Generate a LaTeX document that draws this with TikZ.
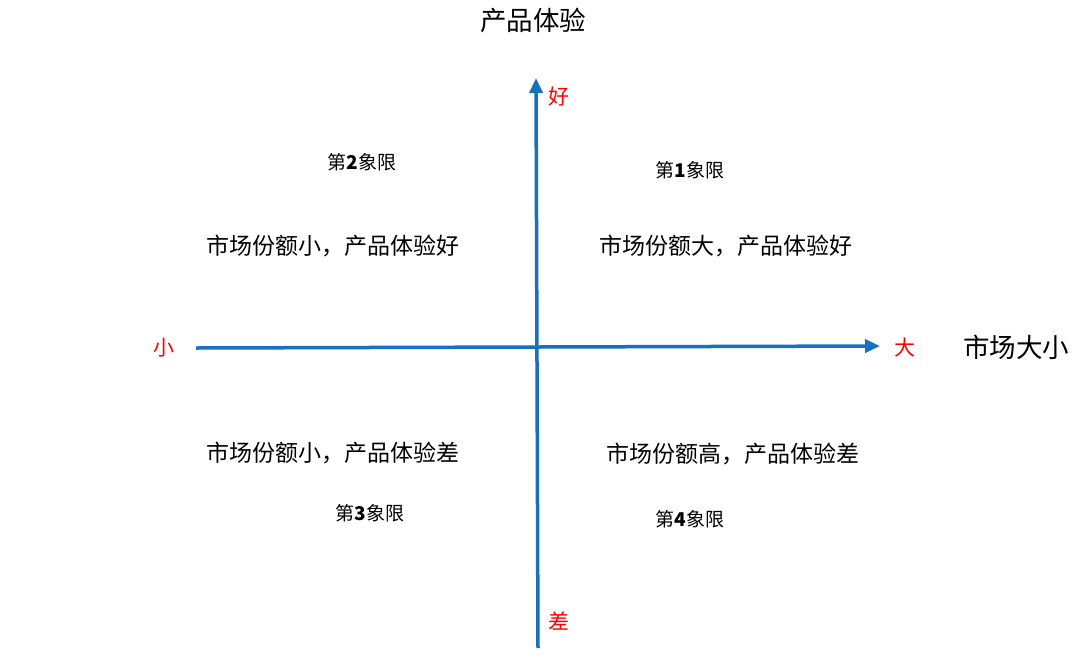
\documentclass[tikz,border=0pt]{standalone}
\usepackage{fontspec}
\usepackage{tikz}
\usetikzlibrary{arrows.meta}
\newfontfamily\cjk{Noto Sans CJK SC}
\definecolor{axisblue}{RGB}{23,113,190}

\begin{document}
\begin{tikzpicture}[x=1pt,y=-1pt,>={Triangle[length=15pt,width=13pt]}]
                \tikzstyle{axis}=[->,draw=axisblue,line width=3.5pt]
                \tikzstyle{title}=[text=black,font=\cjk\fontsize{26.5}{28}\selectfont]
                \tikzstyle{end}=[text=red,font=\cjk\fontsize{21}{23}\selectfont]
                \tikzstyle{quad}=[text=black,font=\cjk\fontsize{19}{21}\selectfont]
                \tikzstyle{desc}=[text=black,font=\cjk\fontsize{23}{25}\selectfont]
                \useasboundingbox[fill=white] (0,0) rectangle (1074,662);

                \coordinate (L) at (196,348);
                \coordinate (R) at (880,346);
                \coordinate (B) at (538,648);
                \coordinate (T) at (536,78);

                \node[title]  (ytitle) at (533,20)  {产品体验};
                \node[title]  (xtitle) at (1016,347) {市场大小};
                \node[end]    (good)   at (559,97)  {好};
                \node[end]    (bad)    at (559,621) {差};
                \node[end]    (big)    at (905,348) {大};
                \node[end]    (small)  at (164,348) {小};

                \node[quad]   (q1) at (690,170) {第\textbf{1}象限};
                \node[quad]   (q2) at (362,162) {第\textbf{2}象限};
                \node[quad]   (q3) at (370,513) {第\textbf{3}象限};
                \node[quad]   (q4) at (690,519) {第\textbf{4}象限};

                \node[desc]   (d1) at (726,246) {市场份额大，产品体验好};
                \node[desc]   (d2) at (333,246) {市场份额小，产品体验好};
                \node[desc]   (d3) at (333,453) {市场份额小，产品体验差};
                \node[desc]   (d4) at (733,454) {市场份额高，产品体验差};

                \draw[axis] (L) -- (R);
                \draw[axis] (B) -- (T);
            \end{tikzpicture}
\end{document}
